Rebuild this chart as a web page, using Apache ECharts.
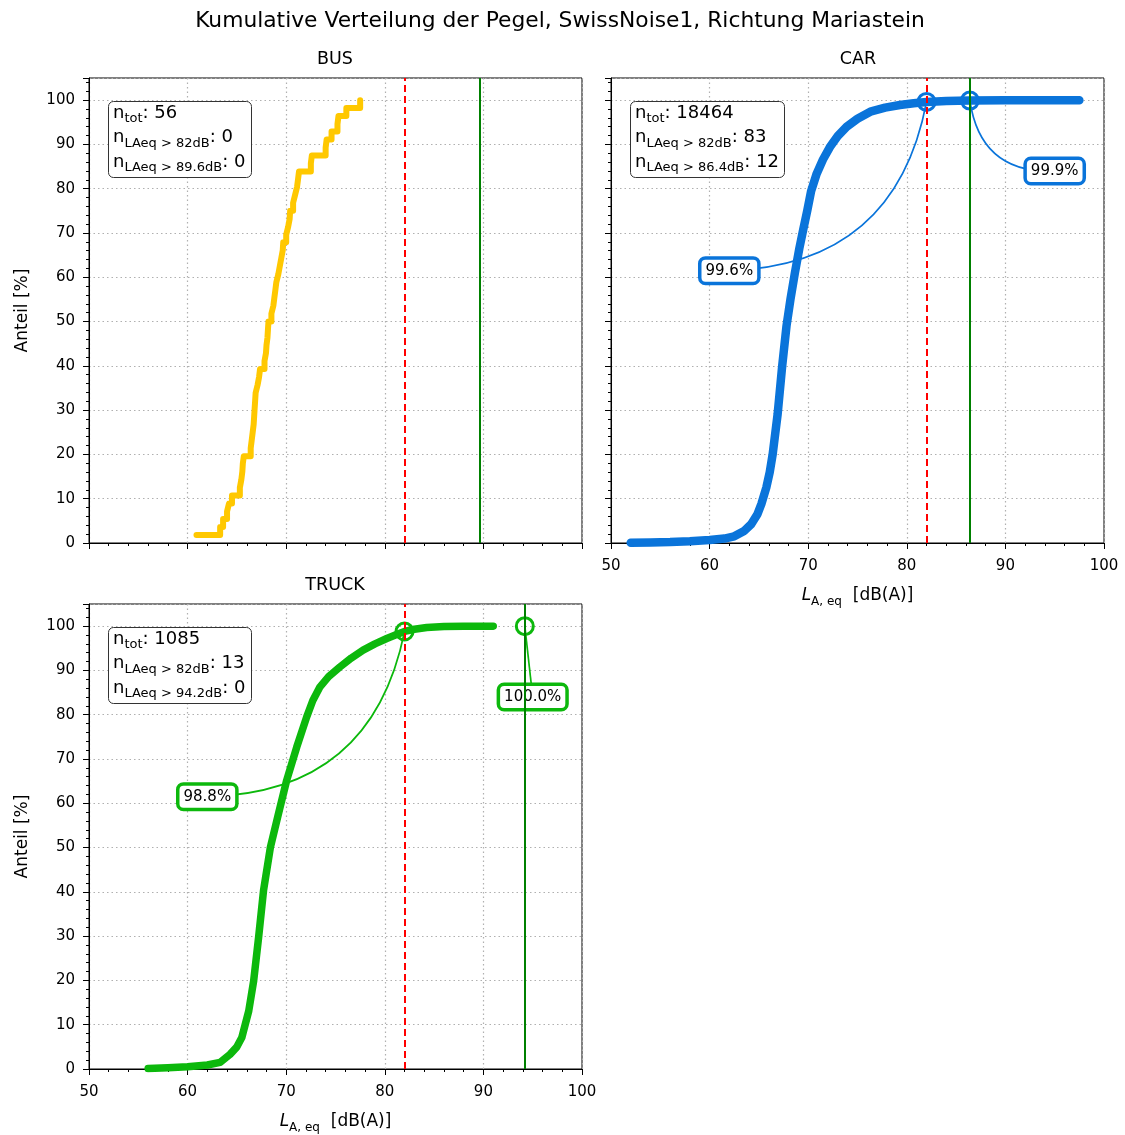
<!DOCTYPE html>
<html>
<head>
<meta charset="utf-8">
<script src="https://cdn.jsdelivr.net/npm/echarts@6/dist/echarts.min.js"></script>
<style>
  html, body { margin: 0; padding: 0; background: #fff; }
  #chart { width: 1125px; height: 1135px; }
</style>
</head>
<body>
<div id="chart"></div>
<script>
// ---- data -------------------------------------------------------------
const panelNames = ['BUS', 'CAR', 'TRUCK'];
const vehicleCounts = [56, 18464, 1085];
const limitLevel = 82;
const countsAboveLimit = [0, 83, 13];
const maxLevels = [89.6, 86.4, 94.2];
const countsAboveMax = [0, 12, 0];

// BUS: sorted single-event levels and their cumulative share (step curve)
const busLevels = [60.9, 63.3, 63.6, 64.0, 64.2, 64.5, 65.3, 65.45, 65.55, 65.6,
  65.7, 66.4, 66.5, 66.6, 66.7, 66.75, 66.8, 66.85, 66.9, 67.1,
  67.25, 67.35, 67.8, 67.95, 68.0, 68.1, 68.15, 68.2, 68.5, 68.7,
  68.8, 68.9, 69.0, 69.2, 69.35, 69.5, 69.65, 69.7, 70.0, 70.2,
  70.35, 70.4, 70.7, 70.9, 71.1, 71.2, 71.3, 72.5, 72.6, 74.0,
  74.1, 74.6, 75.2, 75.3, 76.1, 77.5];
const busShares = [1.8, 3.6, 5.4, 7.1, 8.9, 10.7, 12.5, 14.3, 16.1, 17.9,
  19.6, 21.4, 23.2, 25.0, 26.8, 28.6, 30.4, 32.1, 33.9, 35.7,
  37.5, 39.3, 41.1, 42.9, 44.6, 46.4, 48.2, 50.0, 51.8, 53.6,
  55.4, 57.1, 58.9, 60.7, 62.5, 64.3, 66.1, 67.9, 69.6, 71.4,
  73.2, 75.0, 76.8, 78.6, 80.4, 82.1, 83.9, 85.7, 87.5, 89.3,
  91.1, 92.9, 94.6, 96.4, 98.2, 100.0];

// CAR
const carLevels = [52.0, 54.0, 56.0, 58.0, 60.0, 61.5, 62.5, 63.5, 64.2, 64.85,
  65.25, 65.75, 66.1, 66.4, 66.9, 67.35, 67.8, 68.2, 68.65, 69.1,
  69.5, 69.9, 70.3, 70.86, 71.5, 72.2, 73.0, 73.9, 75.0, 76.3,
  77.8, 79.3, 80.7, 82.0, 84.0, 86.4, 90.0, 94.0, 97.5];
const carShares = [0.05, 0.1, 0.2, 0.4, 0.7, 1.0, 1.5, 2.7, 4.2, 6.5,
  8.8, 12.5, 16.0, 20.1, 29.1, 39.7, 49.0, 55.0, 61.0, 66.5,
  70.8, 75.0, 79.5, 83.4, 86.6, 89.4, 91.9, 94.0, 95.8, 97.4,
  98.3, 98.9, 99.3, 99.6, 99.8, 99.9, 99.95, 99.99, 100.0];

// TRUCK
const truckLevels = [56.0, 58.0, 60.0, 62.0, 63.3, 64.3, 65.0, 65.5, 66.2, 66.7,
  67.2, 67.7, 68.4, 69.2, 70.05, 71.07, 72.08, 72.7, 73.43, 74.3,
  75.46, 76.6, 77.8, 79.0, 80.2, 81.2, 82.0, 83.0, 84.25, 86.0,
  88.0, 91.0];
const truckShares = [0.1, 0.3, 0.5, 0.9, 1.5, 3.3, 5.0, 7.1, 13.1, 19.9,
  29.7, 40.3, 50.1, 57.5, 65.2, 72.7, 79.5, 83.2, 86.3, 88.6,
  90.8, 92.8, 94.6, 96.0, 97.2, 98.1, 98.8, 99.3, 99.7, 99.9,
  99.95, 100.0];

// highlighted shares at the limit level and at the max level
const carMarkLevels = [82, 86.4];
const carMarkShares = [99.6, 99.9];
const truckMarkLevels = [82, 94.2];
const truckMarkShares = [98.8, 100.0];

// ---- layout & style ---------------------------------------------------
const FONT = 'DejaVu Sans';
const colors = ['#FFC800', '#0A74DA', '#0CB80C'];
const lineWidths = [6, 8.5, 7.5];
const grids = [
  { left: 89, top: 78, width: 493, height: 465 },
  { left: 611, top: 78, width: 493, height: 465 },
  { left: 89, top: 604, width: 493, height: 465 }
];
const titlePos = [[335, 59], [858, 59], [335, 585]];
const infoPos = [[108, 98], [630, 98], [108, 624]];
// callout boxes placed in data units [level, share]
const calloutAt = [[62.0, 61.5], [95.0, 84.0]];
const carCurves = [-0.4, 0.45];
const truckCurves = [-0.4, 0];

const xName = '{i|L}{s|A, eq}{n|  [dB(A)]}';

function xAxisFor(i, withLabels) {
  return {
    type: 'value', gridIndex: i, min: 50, max: 100, interval: 10,
    name: withLabels ? xName : '',
    nameLocation: 'middle', nameGap: 41,
    nameTextStyle: {
      rich: {
        i: { fontFamily: FONT, fontStyle: 'italic', fontSize: 17, color: '#000', lineHeight: 24, verticalAlign: 'middle' },
        s: { fontFamily: FONT, fontSize: 12, color: '#000', lineHeight: 12, verticalAlign: 'bottom' },
        n: { fontFamily: FONT, fontSize: 17, color: '#000', lineHeight: 24, verticalAlign: 'middle' }
      }
    },
    axisLine: { show: true, onZero: false, lineStyle: { color: '#000', width: 1 } },
    axisTick: { show: true, length: 6, lineStyle: { color: '#000', width: 1 } },
    minorTick: { show: true, splitNumber: 5, length: 3, lineStyle: { color: '#000', width: 1 } },
    axisLabel: { show: withLabels, color: '#000', fontFamily: FONT, fontSize: 15, margin: 16 },
    splitLine: { show: true, lineStyle: { color: '#b0b0b0', width: 1.2, type: [1.5, 3] } }
  };
}

function yAxisFor(i, withLabels) {
  return {
    type: 'value', gridIndex: i, min: 0, max: 105, interval: 10,
    name: withLabels ? 'Anteil [%]' : '',
    nameLocation: 'middle', nameGap: 58, nameRotate: 90,
    nameTextStyle: { fontFamily: FONT, fontSize: 17, color: '#000' },
    axisLine: { show: true, onZero: false, lineStyle: { color: '#000', width: 1 } },
    axisTick: { show: true, length: 6, lineStyle: { color: '#000', width: 1 } },
    minorTick: { show: true, splitNumber: 5, length: 3, lineStyle: { color: '#000', width: 1 } },
    axisLabel: { show: withLabels, showMaxLabel: false, color: '#000', fontFamily: FONT, fontSize: 15, margin: 14 },
    splitLine: { show: true, lineStyle: { color: '#b0b0b0', width: 1.2, type: [1.5, 3] } }
  };
}

function pairs(xs, ys) {
  return xs.map((x, k) => [x, ys[k]]);
}

function curveSeries(i, levels, shares, step) {
  return {
    type: 'line', xAxisIndex: i, yAxisIndex: i,
    data: pairs(levels, shares),
    step: step, showSymbol: false, symbol: 'none', silent: true, z: 2,
    lineStyle: { color: colors[i], width: lineWidths[i], cap: 'round', join: 'round' },
    markLine: {
      silent: true, symbol: ['none', 'none'], z: 12,
      label: { show: false },
      data: [
        { xAxis: limitLevel, lineStyle: { color: '#FF0000', width: 2, type: [7, 4] } },
        { xAxis: maxLevels[i], lineStyle: { color: '#008000', width: 2, type: 'solid' } }
      ]
    }
  };
}

function markSeries(i, levels, shares) {
  return {
    type: 'scatter', xAxisIndex: i, yAxisIndex: i, silent: true, z: 6,
    data: pairs(levels, shares),
    symbol: 'circle', symbolSize: 17,
    itemStyle: { color: 'rgba(0,0,0,0)', borderColor: colors[i], borderWidth: 3, opacity: 1 }
  };
}

// curved connectors from each callout box to its marked point
function connectorSeries(i, levels, shares, curves) {
  return {
    type: 'lines', coordinateSystem: 'cartesian2d', xAxisIndex: i, yAxisIndex: i,
    silent: true, z: 5, symbol: ['none', 'none'],
    lineStyle: { color: colors[i], width: 1.7, opacity: 1 },
    data: levels.map((x, k) => ({
      coords: [calloutAt[k], [x, shares[k]]],
      lineStyle: { curveness: curves[k] }
    }))
  };
}

function calloutSeries(i, shares) {
  return {
    type: 'scatter', xAxisIndex: i, yAxisIndex: i, silent: true, z: 10,
    symbolSize: 0,
    itemStyle: { opacity: 1 },
    data: shares.map((s, k) => ({ value: calloutAt[k], label: { formatter: s.toFixed(1) + '%' } })),
    label: {
      show: true, position: 'inside', color: '#000', fontFamily: FONT, fontSize: 15,
      backgroundColor: '#fff', borderColor: colors[i], borderWidth: 3.5, borderRadius: 4,
      padding: [4, 4, 3, 4], opacity: 1
    }
  };
}

function infoText(i) {
  return '{n|n}{s|tot}{n|: ' + vehicleCounts[i] + '}\n' +
    '{n|n}{s|LAeq > ' + limitLevel + 'dB}{n|: ' + countsAboveLimit[i] + '}\n' +
    '{n|n}{s|LAeq > ' + maxLevels[i] + 'dB}{n|: ' + countsAboveMax[i] + '}';
}

const infoBoxes = panelNames.map((name, i) => ({
  text: infoText(i),
  left: infoPos[i][0], top: infoPos[i][1],
  backgroundColor: '#fff', borderColor: '#333', borderWidth: 1, borderRadius: 5,
  padding: [3, 6, 3, 5],
  textStyle: {
    fontWeight: 'normal',
    rich: {
      n: { fontFamily: FONT, fontSize: 18, fontWeight: 'normal', color: '#000', lineHeight: 24.5, verticalAlign: 'middle' },
      s: { fontFamily: FONT, fontSize: 13, fontWeight: 'normal', color: '#000', lineHeight: 12, verticalAlign: 'bottom' }
    }
  }
}));

const chart = echarts.init(document.getElementById('chart'), null, { renderer: 'canvas' });
chart.setOption({
  animation: false,
  backgroundColor: '#fff',
  title: infoBoxes,
  graphic: [
    {
      type: 'text', x: 560, y: 21,
      style: { text: 'Kumulative Verteilung der Pegel, SwissNoise1, Richtung Mariastein', font: '21.8px ' + FONT, fill: '#000', textAlign: 'center', textVerticalAlign: 'middle' }
    }
  ].concat(panelNames.map((name, i) => ({
    type: 'text', x: titlePos[i][0], y: titlePos[i][1],
    style: { text: name, font: '17.5px ' + FONT, fill: '#000', textAlign: 'center', textVerticalAlign: 'middle' }
  }))),
  grid: grids.map(g => Object.assign({ show: true, borderColor: '#000', borderWidth: 1, backgroundColor: 'transparent', containLabel: false }, g)),
  xAxis: [xAxisFor(0, false), xAxisFor(1, true), xAxisFor(2, true)],
  yAxis: [yAxisFor(0, true), yAxisFor(1, false), yAxisFor(2, true)],
  series: [
    curveSeries(0, busLevels, busShares, 'end'),
    curveSeries(1, carLevels, carShares, false),
    curveSeries(2, truckLevels, truckShares, false),
    connectorSeries(1, carMarkLevels, carMarkShares, carCurves),
    connectorSeries(2, truckMarkLevels, truckMarkShares, truckCurves),
    markSeries(1, carMarkLevels, carMarkShares),
    markSeries(2, truckMarkLevels, truckMarkShares),
    calloutSeries(1, carMarkShares),
    calloutSeries(2, truckMarkShares)
  ]
});
</script>
</body>
</html>
